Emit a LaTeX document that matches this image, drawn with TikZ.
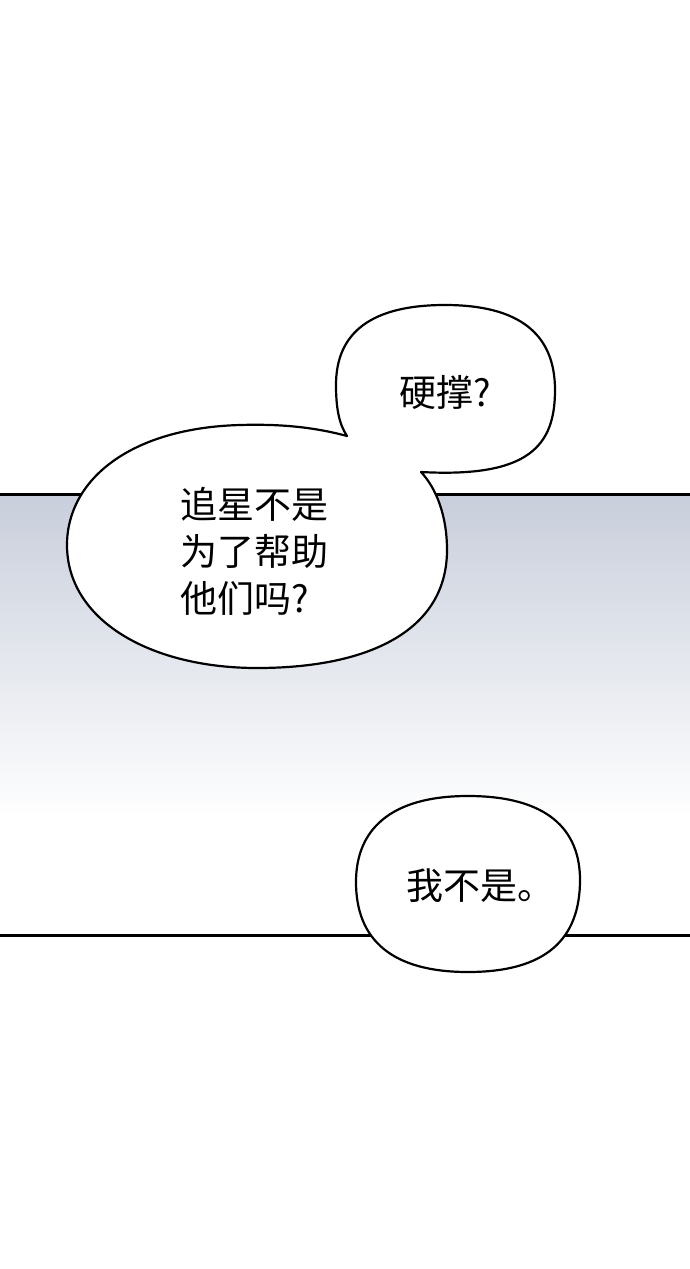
\documentclass[tikz,border=0pt]{standalone}
\usepackage{fontspec}
\newfontfamily\cjk{Noto Sans CJK SC}
\definecolor{topc}{RGB}{200,206,219}
\pgfdeclareverticalshading{panelgrad}{100bp}{color(0bp)=(white); color(25bp)=(white); color(38bp)=(white); color(75bp)=(topc); color(100bp)=(topc)}
\tikzset{
  bubble/.style={fill=white, draw=black, line width=2.2pt, line join=round},
  frameline/.style={draw=black, line width=3pt},
  speech/.style={font=\cjk\fontsize{37}{47}\selectfont, text=black, inner sep=0pt},
}
\begin{document}
\begin{tikzpicture}[x=1pt,y=-1pt]
\useasboundingbox (0,0) rectangle (690,1269);
\fill[white] (0,0) rectangle (690,1269);
% panel
\shade[shading=panelgrad] (0,494) rectangle (690,935);
\coordinate (tl) at (0,494);
\coordinate (tr) at (690,494);
\coordinate (bl) at (0,935);
\coordinate (br) at (690,935);
\draw[frameline] (tl) -- (tr);
\draw[frameline] (bl) -- (br);
% combined bubble (big + small)
\draw[bubble] (347,436)
  .. controls (310,426) and (275,424) .. (240,425)
  .. controls (130,428) and (67,480) .. (67,545)
  .. controls (67,620) and (150,668) .. (257,668)
  .. controls (370,668) and (447,630) .. (447,550)
  .. controls (447,515) and (436,488) .. (421,472)
  .. controls (530,478) and (555,445) .. (555,390)
  .. controls (555,333) and (518,305) .. (445,305)
  .. controls (372,305) and (336,332) .. (336,385)
  .. controls (336,408) and (339,424) .. (347,436) -- cycle;
% bottom bubble
\draw[bubble] (468,796)
  .. controls (548,796) and (580,830) .. (580,880)
  .. controls (580,940) and (545,972) .. (468,972)
  .. controls (392,972) and (356,940) .. (356,882)
  .. controls (356,830) and (390,796) .. (468,796) -- cycle;
% texts
\node[speech] (t1) at (445,392) {硬撑?};
\node[speech, align=left, anchor=west] (t2) at (180,551) {追星不是\\为了帮助\\他们吗?};
\node[speech, anchor=west] (t3) at (406,886) {我不是。};
\end{tikzpicture}
\end{document}
